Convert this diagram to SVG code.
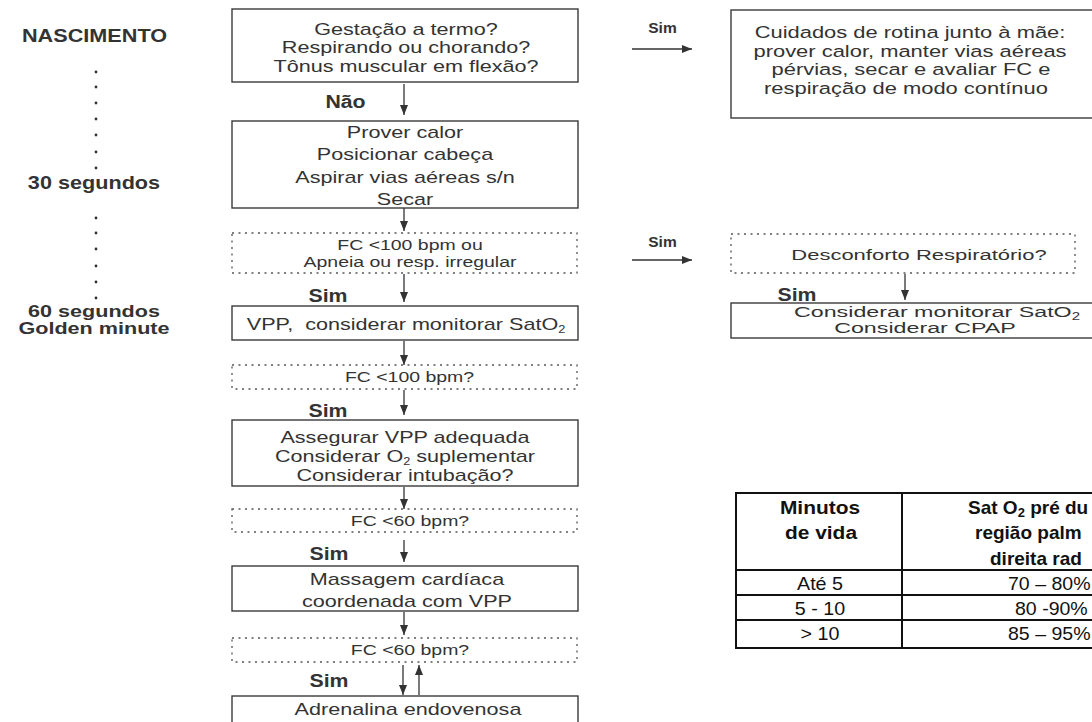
<svg xmlns="http://www.w3.org/2000/svg" width="1092" height="722" viewBox="0 0 1092 722">
<defs>
<marker id="ah" markerWidth="10" markerHeight="8" refX="10" refY="4" orient="auto" markerUnits="userSpaceOnUse">
<path d="M0,0 L10,4 L0,8 Z" fill="#333"/>
</marker>
<style>
text{font-family:"Liberation Sans",Arial,Helvetica,sans-serif;fill:#333}
.m{font-size:17px;text-anchor:middle}
.d{font-size:14px;text-anchor:middle}
.r{font-size:15.5px;text-anchor:middle}
.b{font-weight:bold;font-size:18.5px;text-anchor:middle}
.bl{font-weight:bold;font-size:16px;text-anchor:middle}
.bs{font-weight:bold;font-size:15.5px;text-anchor:middle}
.box{fill:#fff;stroke:#3a3a3a;stroke-width:1.4}
.dot{fill:#fff;stroke:#555;stroke-width:1.3;stroke-dasharray:2 4.5}
.con{stroke:#333;stroke-width:1.3;fill:none;marker-end:url(#ah)}
.tb{fill:none;stroke:#111;stroke-width:2}
.tt{font-size:18.6px;fill:#111}
.th{font-weight:bold;font-size:19px;fill:#111}
.sub{font-size:10px}
.dt{fill:#333}
</style>
</defs>
<rect width="1092" height="722" fill="#fff"/>

<g id="timeline">
<text class="b" transform="translate(94.5,41.5) scale(1.17,1)">NASCIMENTO</text>
<circle class="dt" cx="96" cy="72" r="1.4"/><circle class="dt" cx="96" cy="87" r="1.4"/><circle class="dt" cx="96" cy="103" r="1.4"/><circle class="dt" cx="96" cy="119" r="1.4"/><circle class="dt" cx="96" cy="135" r="1.4"/><circle class="dt" cx="96" cy="152" r="1.4"/><circle class="dt" cx="96" cy="168" r="1.4"/>
<text class="b" transform="translate(94,188.5) scale(1.17,1)">30 segundos</text>
<circle class="dt" cx="96" cy="218" r="1.4"/><circle class="dt" cx="96" cy="233" r="1.4"/><circle class="dt" cx="96" cy="249" r="1.4"/><circle class="dt" cx="96" cy="266" r="1.4"/><circle class="dt" cx="96" cy="282" r="1.4"/><circle class="dt" cx="96" cy="298" r="1.4"/>
<text class="bl" transform="translate(94,317) scale(1.35,1)">60 segundos</text>
<text class="bl" transform="translate(94,334) scale(1.35,1)">Golden minute</text>
</g>

<g id="connectors">
<path class="con" d="M404,84 V115"/>
<path class="con" d="M404,208 V231"/>
<path class="con" d="M404,274 V302"/>
<path class="con" d="M404,341 V365"/>
<path class="con" d="M404,390 V415"/>
<path class="con" d="M404,487 V509"/>
<path class="con" d="M404,540 V562"/>
<path class="con" d="M404,612 V635"/>
<path class="con" d="M403,665 V695"/>
<path class="con" d="M419,695 V665"/>
<path class="con" d="M632,49 H692"/>
<path class="con" d="M632,260 H692"/>
<path class="con" d="M905,274 V300"/>
<text class="b" transform="translate(345.5,107.5) scale(1.15,1)">Não</text>
<text class="b" transform="translate(328,302) scale(1.15,1)">Sim</text>
<text class="b" transform="translate(328,417) scale(1.15,1)">Sim</text>
<text class="b" transform="translate(329,560) scale(1.15,1)">Sim</text>
<text class="b" transform="translate(329,687) scale(1.15,1)">Sim</text>
<text class="bs" x="662.5" y="33">Sim</text>
<text class="bs" x="662.5" y="246.5">Sim</text>
<text class="b" transform="translate(797,301) scale(1.15,1)">Sim</text>
</g>

<g id="n1">
<rect class="box" x="232" y="9" width="346" height="73"/>
<text class="m" transform="translate(406,35) scale(1.27,1)">Gestação a termo?</text>
<text class="m" transform="translate(406,53) scale(1.27,1)">Respirando ou chorando?</text>
<text class="m" transform="translate(406,71.5) scale(1.27,1)">Tônus muscular em flexão?</text>
</g>

<g id="n2">
<rect class="box" x="232" y="121" width="346" height="87"/>
<text class="m" transform="translate(405,138) scale(1.27,1)">Prover calor</text>
<text class="m" transform="translate(405,160) scale(1.27,1)">Posicionar cabeça</text>
<text class="m" transform="translate(405,183) scale(1.27,1)">Aspirar vias aéreas s/n</text>
<text class="m" transform="translate(405,205) scale(1.27,1)">Secar</text>
</g>

<g id="n3">
<rect class="dot" x="232" y="233" width="345" height="40"/>
<text class="d" transform="translate(410,250) scale(1.39,1)">FC &lt;100 bpm ou</text>
<text class="d" transform="translate(410,266.7) scale(1.39,1)">Apneia ou resp. irregular</text>
</g>

<g id="n4">
<rect class="box" x="232" y="306" width="346" height="34"/>
<text class="m" transform="translate(406,330) scale(1.27,1)">VPP,&#160; considerar monitorar SatO<tspan class="sub" dy="3">2</tspan></text>
</g>

<g id="n5">
<rect class="dot" x="232" y="365" width="345" height="24"/>
<text class="d" transform="translate(409.5,381.7) scale(1.39,1)">FC &lt;100 bpm?</text>
</g>

<g id="n6">
<rect class="box" x="232" y="420" width="346" height="66"/>
<text class="m" transform="translate(405,443) scale(1.27,1)">Assegurar VPP adequada</text>
<text class="m" transform="translate(405,462) scale(1.27,1)">Considerar O<tspan class="sub" dy="3">2</tspan><tspan dy="-3"> suplementar</tspan></text>
<text class="m" transform="translate(405,481) scale(1.27,1)">Considerar intubação?</text>
</g>

<g id="n7">
<rect class="dot" x="232" y="509" width="345" height="23"/>
<text class="d" transform="translate(410,526) scale(1.39,1)">FC &lt;60 bpm?</text>
</g>

<g id="n8">
<rect class="box" x="232" y="566" width="346" height="45"/>
<text class="m" transform="translate(407,585) scale(1.27,1)">Massagem cardíaca</text>
<text class="m" transform="translate(407,606.5) scale(1.27,1)">coordenada com VPP</text>
</g>

<g id="n9">
<rect class="dot" x="232" y="638" width="345" height="24"/>
<text class="d" transform="translate(410,655) scale(1.39,1)">FC &lt;60 bpm?</text>
</g>

<g id="n10">
<rect class="box" x="232" y="696" width="346" height="40"/>
<text class="m" transform="translate(408,715) scale(1.27,1)">Adrenalina endovenosa</text>
</g>

<g id="r1">
<rect class="box" x="731" y="10" width="400" height="108"/>
<text class="m" transform="translate(910,38) scale(1.29,1)">Cuidados de rotina junto à mãe:</text>
<text class="m" transform="translate(910,56.5) scale(1.29,1)">prover calor, manter vias aéreas</text>
<text class="m" transform="translate(911,75) scale(1.29,1)">pérvias, secar e avaliar FC e</text>
<text class="m" transform="translate(906,93.5) scale(1.29,1)">respiração de modo contínuo</text>
</g>

<g id="r2">
<rect class="dot" x="731" y="234" width="344" height="39"/>
<text class="r" transform="translate(919,260) scale(1.42,1)">Desconforto Respiratório?</text>
</g>

<g id="r3">
<rect class="box" x="731" y="303" width="400" height="35"/>
<text class="r" transform="translate(937,317) scale(1.5,1)">Considerar monitorar SatO<tspan class="sub" dy="3">2</tspan></text>
<text class="r" transform="translate(925,333) scale(1.5,1)">Considerar CPAP</text>
</g>

<g id="table">
<rect class="tb" x="736" y="493" width="400" height="155"/>
<line class="tb" x1="902" y1="493" x2="902" y2="648"/>
<line class="tb" x1="736" y1="570" x2="1100" y2="570"/>
<line class="tb" x1="736" y1="595" x2="1100" y2="595"/>
<line class="tb" x1="736" y1="620" x2="1100" y2="620"/>
<text class="th" text-anchor="middle" transform="translate(820,514) scale(1.1,1)">Minutos</text>
<text class="th" text-anchor="middle" transform="translate(821,539) scale(1.1,1)">de vida</text>
<text class="th" x="968" y="514">Sat O<tspan font-size="13" dy="3">2</tspan><tspan dy="-3"> pré du</tspan></text>
<text class="th" x="975" y="539">região palm</text>
<text class="th" x="990" y="564.5">direita rad</text>
<text class="tt" text-anchor="middle" transform="translate(820,590) scale(1.06,1)">Até 5</text>
<text class="tt" text-anchor="middle" transform="translate(820,615) scale(1.06,1)">5 - 10</text>
<text class="tt" text-anchor="middle" transform="translate(820,640) scale(1.06,1)">&gt; 10</text>
<text class="tt" transform="translate(1008,590) scale(1.05,1)">70 – 80%</text>
<text class="tt" transform="translate(1015,615) scale(1.05,1)">80 -90%</text>
<text class="tt" transform="translate(1008,640) scale(1.05,1)">85 – 95%</text>
</g>
</svg>
